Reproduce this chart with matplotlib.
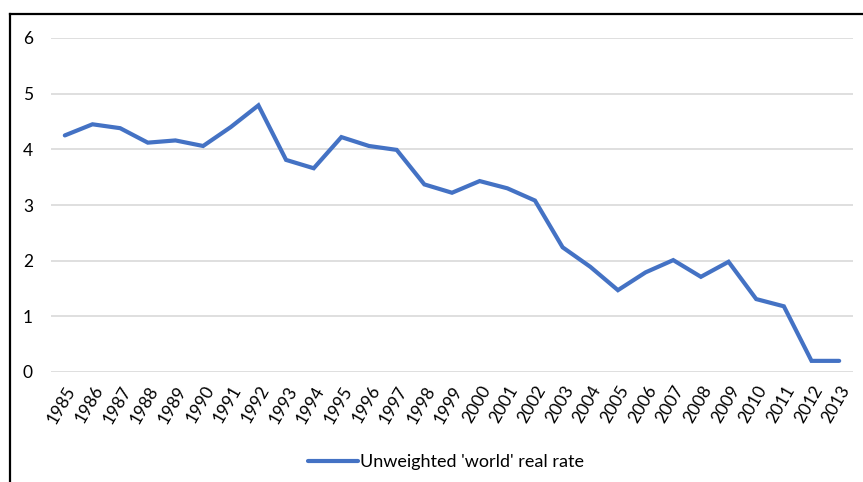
import matplotlib
matplotlib.use("Agg")
import matplotlib.pyplot as plt
from matplotlib.lines import Line2D

years = [str(y) for y in range(1985, 2014)]
real_rate = [4.25, 4.45, 4.38, 4.12, 4.16, 4.06, 4.40, 4.79, 3.81, 3.66,
             4.22, 4.06, 3.99, 3.37, 3.22, 3.43, 3.30, 3.08, 2.24, 1.89,
             1.47, 1.79, 2.01, 1.71, 1.98, 1.31, 1.18, 0.20, 0.20]
series_label = "Unweighted 'world' real rate"
yticks = [0, 1, 2, 3, 4, 5, 6]

W, H = 863, 482
plt.rcParams['font.family'] = ['Lato', 'DejaVu Sans']

fig = plt.figure(figsize=(W / 100, H / 100), dpi=100)
ax = fig.add_axes([51 / W, 1 - 372 / H, (853 - 51) / W, (372 - 38) / H])

x = list(range(len(years)))
ax.plot(x, real_rate, color="#4472C4", lw=3.0, solid_capstyle="round",
        solid_joinstyle="miter", label=series_label, zorder=3)

ax.set_xlim(-0.5, len(years) - 0.5)
ax.set_ylim(0, 6)
ax.set_yticks(yticks)
ax.set_xticks(x)
ax.set_xticklabels(years, rotation=60, ha="right", va="top",
                   rotation_mode="anchor")
ax.tick_params(axis="both", length=0, labelsize=12.5, colors="#000000")
ax.tick_params(axis="y", pad=13)
ax.tick_params(axis="x", pad=8)
ax.grid(axis="y", color="#d9d9d9", lw=1.2)
ax.set_axisbelow(True)
for s in ax.spines.values():
    s.set_visible(False)

# outer frame (chart area border, clipped by the image)
fig.add_artist(Line2D([9.5 / W, 1.0], [1 - 14 / H, 1 - 14 / H],
                      transform=fig.transFigure, color="black", lw=1.6))
fig.add_artist(Line2D([9.5 / W, 9.5 / W], [1 - 14 / H, 0],
                      transform=fig.transFigure, color="black", lw=1.6))

fig.legend(loc="center", bbox_to_anchor=(446 / W, 1 - 462 / H), frameon=False,
           fontsize=13, handlelength=2.8, handletextpad=0.1)

fig.savefig("out.png", dpi=100)
